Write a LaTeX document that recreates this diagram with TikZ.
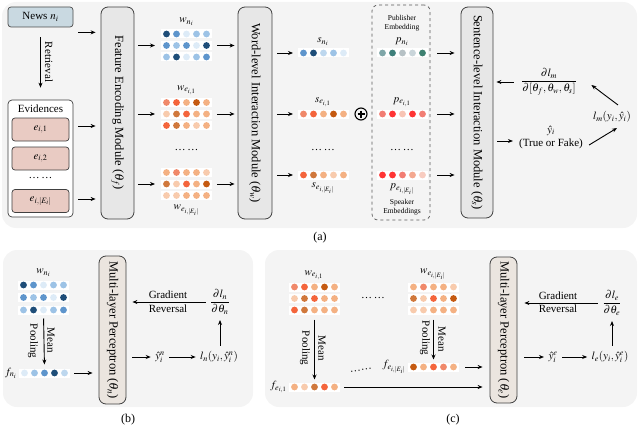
\documentclass[tikz,border=0pt]{standalone}
\usepackage{amsmath}
\usepackage{mathptmx}
\usepackage{graphicx}
\usepackage{fontspec}
\setmainfont{Liberation Serif}
\usetikzlibrary{arrows.meta}
\definecolor{panelbg}{HTML}{F4F4F4}
\definecolor{modgray}{HTML}{E7E7E7}
\definecolor{mlpfill}{HTML}{EBE5DF}
\definecolor{newsfill}{HTML}{C9D9E1}
\definecolor{evfill}{HTML}{E9CBC3}
\definecolor{bD}{HTML}{1F4E79}
\definecolor{bM}{HTML}{5E95CC}
\definecolor{bL}{HTML}{9DC3E6}
\definecolor{bLL}{HTML}{BDD7EE}
\definecolor{bVL}{HTML}{DDEBF7}
\definecolor{oD}{HTML}{C55A11}
\definecolor{oB}{HTML}{D0783C}
\definecolor{oR}{HTML}{F4653C}
\definecolor{oS}{HTML}{F0896A}
\definecolor{oL}{HTML}{F4B183}
\definecolor{oVL}{HTML}{F8CBAD}
\definecolor{t1}{HTML}{7FA6A8}
\definecolor{t2}{HTML}{3E7F7A}
\definecolor{t3}{HTML}{B6C1C5}
\definecolor{t4}{HTML}{C9D5DA}
\definecolor{t5}{HTML}{3D8070}
\definecolor{r2}{HTML}{FF3535}
\definecolor{r3}{HTML}{F8C4B4}
\definecolor{r4}{HTML}{F27E74}
\definecolor{r5}{HTML}{F8CCC0}
\definecolor{r6}{HTML}{F4A890}
\newcommand{\drow}[4]{%
  \node[rowbox, anchor=west] (#1) at (#2,#3) {};
  \foreach \cc [count=\kk] in {#4} {\fill[\cc] ([xshift={\kk*10pt-4.5pt}]#1.west) circle (3.4pt);}%
}
\begin{document}
\begin{tikzpicture}[x=1pt,y=-1pt,
  every node/.style={font=\fontsize{11}{13}\selectfont},
  arr/.style={-{Stealth[length=5pt,width=4pt]}, line width=0.9pt},
  panel/.style={fill=panelbg, draw=none, rounded corners=14pt},
  module/.style={draw=black!75, fill=modgray, rounded corners=7pt, line width=0.8pt, inner sep=0pt,
     font=\fontsize{12.5}{14}\selectfont},
  mlp/.style={module, fill=mlpfill},
  rowbox/.style={rectangle, fill=white, draw=none, minimum width=51pt, minimum height=9pt, inner sep=0pt, outer sep=0pt},
  small/.style={font=\fontsize{7.5}{9}\selectfont, inner sep=0pt},
  ebox/.style={draw=black!75, fill=evfill, rounded corners=3pt, line width=0.7pt, minimum width=57pt, minimum height=23pt, inner sep=0pt},
  captext/.style={font=\fontsize{12}{14}\selectfont}
]
\useasboundingbox (0,0) rectangle (640,428);
% panels
\fill[panel] (2,2) rectangle (637,228);
\fill[panel] (3,250) rectangle (253,407);
\fill[panel] (265,250) rectangle (637,407);
\node[captext] (capa) at (320,238) {(a)};
\node[captext] (capb) at (128,420) {(b)};
\node[captext] (capc) at (453,420) {(c)};

% ===== panel (a) =====
\node[draw=black!70, fill=newsfill, rounded corners=3pt, line width=0.7pt, minimum width=65pt, minimum height=20pt, inner sep=0pt] (news) at (40.5,17) {News $n_i$};
\node[draw=black!75, fill=white, rounded corners=4pt, line width=0.7pt, minimum width=65pt, minimum height=117pt, inner sep=0pt] (ev) at (40.5,158.5) {};
\node (evt) at (40.5,109) {Evidences};
\node[ebox] (e1) at (40.5,129.5) {$e_{i,1}$};
\node[ebox] (e2) at (40.5,158.5) {$e_{i,2}$};
\node (edots) at (40.5,178) {…\,…};
\node[ebox] (eE) at (40.5,201) {$e_{i,|E_i|}$};
\draw[arr, shorten <=10pt, shorten >=12pt] (news.south) -- (ev.north);
\node[rotate=-90] (retr) at (49,62) {Retrieval};

\node[module, minimum width=33pt, minimum height=212pt] (fe) at (117.5,113) {\rotatebox{-90}{Feature Encoding Module ($\theta_f$)}};
\node[module, minimum width=34pt, minimum height=212pt] (wl) at (255,113) {\rotatebox{-90}{Word-level Interaction Module ($\theta_w$)}};
\node[module, minimum width=32pt, minimum height=211pt] (sl) at (477,112.5) {\rotatebox{-90}{Sentence-level Interaction Module ($\theta_s$)}};

\path ([yshift=-5pt]news.south east) coordinate (n1);
\path ([yshift=3.5pt]e1.east -| ev.east) coordinate (c1);
\path ([yshift=2pt]eE.east -| ev.east) coordinate (c2);
\draw[arr, shorten <=5pt, shorten >=5pt] (n1) -- (fe.west |- n1);
\draw[arr, shorten <=5pt, shorten >=5pt] (c1) -- (fe.west |- c1);
\draw[arr, shorten <=5pt, shorten >=5pt] (c2) -- (fe.west |- c2);

% word grids
\drow{wn1}{161}{34}{bD,bM,bVL,bL,bL}
\drow{wn2}{161}{45.5}{bM,bL,bM,bVL,bD}
\drow{wn3}{161}{57}{bL,bD,bVL,bL,bM}
\drow{we1}{161}{102.5}{oS,oR,oL,oD,oL}
\drow{we2}{161}{114}{oVL,oB,oR,oL,oL}
\drow{we3}{161}{125.5}{oR,oB,oL,oVL,oL}
\drow{wE1}{161}{172.5}{oL,oS,oL,oL,oVL}
\drow{wE2}{161}{184}{oB,oVL,oR,oL,oD}
\drow{wE3}{161}{195.5}{oVL,oVL,oL,oL,oL}
\node (lwn) at (186.5,22) {$w_{n_i}$};
\node (lwe) at (186.5,90) {$w_{e_{i,1}}$};
\node (wdots) at (186.5,150) {…\,…};
\node (lwE) at (186.5,210) {$w_{e_{i,|E_i|}}$};
\foreach \r in {wn2,we2,wE2} {
  \draw[arr, shorten <=4pt, shorten >=6pt] (fe.east |- \r) -- (\r.west);
  \draw[arr, shorten <=5pt, shorten >=3pt] (\r.east) -- (wl.west |- \r);
}

% sentence rows
\drow{sn}{298}{53}{bM,bD,bLL,bL,bVL}
\drow{se}{298}{114}{oS,oR,oL,oD,oL}
\drow{sE}{298}{175}{oR,oB,oL,oVL,oL}
\node (lsn) at (323,42) {$s_{n_i}$};
\node (lse) at (323,102) {$s_{e_{i,1}}$};
\node (sdots) at (323,150) {…\,…};
\node (lsE) at (323,188) {$s_{e_{i,|E_i|}}$};
\foreach \r in {sn,se,sE} {
  \draw[arr, shorten <=5pt, shorten >=5pt] (wl.east |- \r) -- (\r.west);
}

% plus
\node[draw, circle, line width=1.1pt, minimum size=12pt, inner sep=0pt,
  path picture={\draw[line width=1.1pt] ([yshift=-2.5pt]path picture bounding box.north) -- ([yshift=2.5pt]path picture bounding box.south);
                \draw[line width=1.1pt] ([xshift=2.5pt]path picture bounding box.west) -- ([xshift=-2.5pt]path picture bounding box.east);}] (plus) at (361,114) {};

% dashed box
\node[draw=black!65, dashed, rounded corners=6pt, line width=0.7pt, minimum width=58pt, minimum height=215pt, inner sep=0pt] (dbox) at (401,112.5) {};
\node[small, align=center] (pub) at (402,23.5) {Publisher\\Embedding};
\node[small, align=center] (spk) at (402,207.5) {Speaker\\Embeddings};
\drow{pn}{377}{53}{t1,t2,t3,t4,t5}
\drow{pe}{377}{114}{r4,r2,r3,r2,r4}
\drow{pE}{377}{175}{r2,r2,r4,r6,r5}
\node (lpn) at (402,42) {$p_{n_i}$};
\node (lpe) at (402,102) {$p_{e_{i,1}}$};
\node (pdots) at (402,150) {…\,…};
\node (lpE) at (402,189) {$p_{e_{i,|E_i|}}$};
\foreach \r in {pn,pe,pE} {
  \draw[arr, shorten <=9pt, shorten >=6pt] (\r.east) -- (sl.west |- \r);
}

% right side
\node (gm) at (549,82) {$\dfrac{\partial l_m}{\partial[\theta_f,\theta_w,\theta_s]}$};
\draw[arr, shorten <=4pt, shorten >=3pt] (gm.west) -- (sl.east |- gm.west);
\node[align=center, inner sep=2pt] (yh) at (551,137) {$\hat{y}_i$\\(True or Fake)};
\path ([yshift=-4pt]yh.west) coordinate (yin);
\draw[arr, shorten <=4pt, shorten >=4pt] (sl.east |- yin) -- (yin);
\node (lm) at (612,117) {$l_m(y_i,\hat{y}_i)$};
\draw[arr] ([xshift=6pt,yshift=3pt]lm.north) -- ([xshift=11pt,yshift=-3pt]gm.east);
\draw[arr] ([xshift=4pt,yshift=-8pt]yh.east) -- ([xshift=5pt,yshift=-2pt]lm.south);

% ===== panel (b) =====
\drow{bw1}{18}{285}{bD,bM,bVL,bL,bL}
\drow{bw2}{18}{297.5}{bM,bL,bM,bVL,bD}
\drow{bw3}{18}{310}{bL,bD,bVL,bL,bM}
\drow{bf}{19}{373}{bVL,bL,bM,bD,bLL}
\node (lbw) at (43.5,273) {$w_{n_i}$};
\node[anchor=east, inner sep=1pt] (lbf) at (18,373) {$f_{n_i}$};
\draw[arr, shorten <=4pt, shorten >=4pt] (bw3.south) -- (bf.north);
\node[rotate=-90, inner sep=0pt] (bmean) at (51,340) {Mean};
\node[rotate=-90, inner sep=0pt] (bpool) at (33,341) {Pooling};
\node[mlp, minimum width=27pt, minimum height=148pt] (mlpb) at (112.5,330) {\rotatebox{-90}{Multi-layer Perceptron ($\theta_n$)}};
\draw[arr, shorten <=4pt, shorten >=6pt] (bf.east) -- (mlpb.west |- bf);
\node (gn) at (220,302) {$\dfrac{\partial l_n}{\partial \theta_n}$};
\draw[arr, shorten <=1pt, shorten >=6pt] (gn.west) -- (mlpb.east |- gn);
\node[inner sep=0pt] (gradb) at (168,295) {Gradient};
\node[inner sep=0pt] (revb) at (168,309) {Reversal};
\node (yn) at (160,357) {$\hat{y}_i^n$};
\node (ln) at (219,357) {$l_n(y_i,\hat{y}_i^n)$};
\draw[arr, shorten <=6pt, shorten >=1pt] (mlpb.east |- yn) -- (yn.west);
\draw[arr, shorten <=1pt, shorten >=1pt] (yn.east) -- (ln.west);
\draw[arr, shorten <=2pt, shorten >=2pt] (ln.north -| gn.south) -- (gn.south);

% ===== panel (c) =====
\drow{cw1}{289}{287}{oS,oR,oL,oD,oL}
\drow{cw2}{289}{298.5}{oVL,oB,oR,oL,oL}
\drow{cw3}{289}{310}{oR,oB,oL,oL,oL}
\drow{cf1}{289}{387}{oL,oVL,oB,oR,oL}
\drow{cW1}{408}{287}{oL,oS,oL,oL,oVL}
\drow{cW2}{408}{298.5}{oB,oVL,oR,oL,oD}
\drow{cW3}{408}{310}{oVL,oVL,oL,oL,oL}
\drow{cfE}{408}{367}{oD,oL,oR,oS,oL}
\node (lcw) at (314,275) {$w_{e_{i,1}}$};
\node (lcW) at (433,274) {$w_{e_{i,|E_i|}}$};
\node (cdots) at (373,298) {…\,…};
\node[anchor=east, inner sep=1pt] (lcf1) at (288,387) {$f_{e_{i,1}}$};
\node[anchor=east, inner sep=1pt] (lcfE) at (407,367) {$f_{e_{i,|E_i|}}$};
\draw[arr, shorten <=5pt, shorten >=3pt] (cw3.south) -- (cf1.north);
\draw[arr, shorten <=5pt, shorten >=3pt] (cW3.south) -- (cfE.north);
\node[rotate=-90, inner sep=0pt] (cmean1) at (322,348) {Mean};
\node[rotate=-90, inner sep=0pt] (cpool1) at (305,348) {Pooling};
\node[rotate=-90, inner sep=0pt] (cmean2) at (442,339) {Mean};
\node[rotate=-90, inner sep=0pt] (cpool2) at (425,338) {Pooling};
\node[rotate=8] (fdots) at (361,370) {……};
\node[mlp, minimum width=27pt, minimum height=146pt] (mlpc) at (503.5,330) {\rotatebox{-90}{Multi-layer Perceptron ($\theta_e$)}};
\draw[arr, shorten <=4pt, shorten >=7pt] (cf1.east) -- (mlpc.west |- cf1);
\draw[arr, shorten <=6pt, shorten >=7pt] (cfE.east) -- (mlpc.west |- cfE);
\node (ge) at (612,303) {$\dfrac{\partial l_e}{\partial \theta_e}$};
\draw[arr, shorten <=1pt, shorten >=7pt] (ge.west) -- (mlpc.east |- ge);
\node[inner sep=0pt] (gradc) at (558,296) {Gradient};
\node[inner sep=0pt] (revc) at (558,309) {Reversal};
\node (ye) at (553,357) {$\hat{y}_i^e$};
\node (le) at (610,357) {$l_e(y_i,\hat{y}_i^e)$};
\draw[arr, shorten <=7pt, shorten >=1pt] (mlpc.east |- ye) -- (ye.west);
\draw[arr, shorten <=1pt, shorten >=1pt] (ye.east) -- (le.west);
\draw[arr, shorten <=2pt, shorten >=2pt] (le.north -| ge.south) -- (ge.south);
\end{tikzpicture}
\end{document}
